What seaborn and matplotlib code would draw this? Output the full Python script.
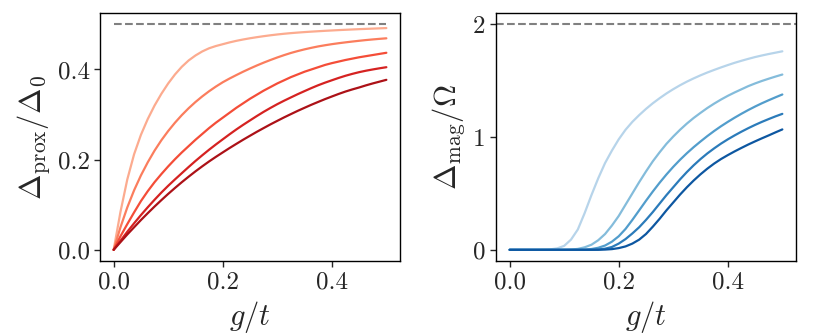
import numpy as np
import pandas as pd
import matplotlib
matplotlib.use("Agg")
import matplotlib.pyplot as plt
import seaborn as sns

# g/t grid shared by every curve
g_over_t = [0.0, 0.0125, 0.025, 0.0375, 0.05, 0.0625, 0.075, 0.0875, 0.1, 0.1125,
            0.125, 0.1375, 0.15, 0.1625, 0.175, 0.1875, 0.2, 0.2125, 0.225, 0.2375,
            0.25, 0.2625, 0.275, 0.2875, 0.3, 0.3125, 0.325, 0.3375, 0.35, 0.3625,
            0.375, 0.3875, 0.4, 0.4125, 0.425, 0.4375, 0.45, 0.4625, 0.475, 0.4875, 0.5]

# left panel: Delta_prox / Delta_0 (light -> dark)
prox_1 = [0, .084, .156, .212, .255, .290, .320, .346, .369, .389,
          .406, .420, .431, .440, .447, .452, .456, .460, .4635, .4665,
          .4692, .4716, .4738, .4758, .4776, .4792, .4806, .4818, .4829, .4839,
          .4848, .4857, .4865, .4873, .4880, .4887, .4894, .4900, .4906, .4912, .4918]
prox_2 = [0, .050, .094, .132, .165, .194, .220, .243, .2635, .282,
          .2988, .314, .3278, .3403, .3517, .3621, .3716, .3799, .3876, .3951,
          .4021, .4088, .4151, .4210, .4266, .4318, .4366, .4408, .4446, .4480,
          .4511, .4537, .4561, .4582, .4601, .4619, .4636, .4652, .4666, .4679, .4691]
prox_3 = [0, .030, .057, .083, .108, .130, .150, .168, .185, .201,
          .216, .230, .244, .257, .270, .282, .293, .304, .315, .325,
          .335, .344, .353, .361, .369, .376, .383, .389, .395, .400,
          .405, .410, .414, .4175, .421, .424, .427, .4295, .432, .4345, .437]
prox_4 = [0, .020, .040, .0588, .077, .0943, .111, .127, .142, .1562,
          .170, .1837, .197, .2097, .222, .2337, .245, .2562, .267, .2772,
          .287, .2967, .306, .3147, .323, .3307, .338, .3452, .352, .3587,
          .365, .3707, .376, .3812, .386, .3902, .394, .3972, .400, .4026, .405]
prox_5 = [0, .017, .034, .050, .066, .0812, .096, .1102, .124, .1372,
          .150, .1622, .174, .1852, .196, .2062, .216, .2257, .235, .2442,
          .253, .2617, .270, .2782, .286, .2937, .301, .3082, .315, .3217,
          .328, .3342, .340, .3457, .351, .3557, .360, .3647, .369, .373, .377]
prox_limit = 0.5

# right panel: Delta_mag / Omega (light -> dark)
mag_1 = [0, 0, 0, 0, 0, .001, .004, .013, .035, .09,
         .18, .325, .485, .635, .77, .88, .98, 1.065, 1.135, 1.195,
         1.25, 1.30, 1.345, 1.387, 1.425, 1.46, 1.492, 1.521, 1.548, 1.573,
         1.596, 1.618, 1.639, 1.659, 1.677, 1.694, 1.71, 1.724, 1.737, 1.749, 1.761]
mag_2 = [0, 0, 0, 0, 0, 0, 0, 0, 0, .002,
         .008, .022, .045, .085, .14, .215, .30, .40, .50, .60,
         .695, .785, .865, .94, 1.005, 1.065, 1.12, 1.17, 1.215, 1.258,
         1.297, 1.333, 1.366, 1.396, 1.424, 1.452, 1.476, 1.498, 1.518, 1.537, 1.555]
mag_3 = [0, 0, 0, 0, 0, 0, 0, 0, 0, 0,
         0, .002, .007, .018, .038, .072, .12, .185, .265, .35,
         .435, .517, .595, .668, .736, .799, .857, .911, .961, 1.009,
         1.054, 1.096, 1.135, 1.172, 1.207, 1.24, 1.271, 1.30, 1.327, 1.353, 1.378]
mag_4 = [0, 0, 0, 0, 0, 0, 0, 0, 0, 0,
         0, 0, 0, .003, .01, .025, .055, .095, .145, .20,
         .265, .335, .41, .485, .555, .625, .69, .75, .805, .855,
         .90, .942, .98, 1.015, 1.048, 1.079, 1.108, 1.135, 1.16, 1.184, 1.206]
mag_5 = [0, 0, 0, 0, 0, 0, 0, 0, 0, 0,
         0, 0, 0, 0, .002, .006, .015, .03, .055, .09,
         .14, .205, .275, .35, .42, .49, .555, .615, .67, .72,
         .765, .805, .84, .873, .904, .934, .962, .989, 1.015, 1.042, 1.068]
mag_limit = 2.0

curve_ids = ['c1', 'c2', 'c3', 'c4', 'c5']


def long_frame(series):
    rows = []
    for cid, vals in zip(curve_ids, series):
        for g, v in zip(g_over_t, vals):
            rows.append({'g': g, 'val': v, 'curve': cid})
    return pd.DataFrame(rows)


df_prox = long_frame([prox_1, prox_2, prox_3, prox_4, prox_5])
df_mag = long_frame([mag_1, mag_2, mag_3, mag_4, mag_5])

sns.set_style("ticks")
plt.rcParams['font.family'] = 'serif'
plt.rcParams['font.serif'] = ['cmr10', 'DejaVu Serif']
plt.rcParams['mathtext.fontset'] = 'cm'
plt.rcParams['axes.formatter.use_mathtext'] = True
plt.rcParams['axes.unicode_minus'] = False

reds = [matplotlib.colormaps['Reds'](x) for x in np.linspace(0.3, 0.85, 5)]
blues = [matplotlib.colormaps['Blues'](x) for x in np.linspace(0.3, 0.85, 5)]

fig, axes = plt.subplots(1, 2, figsize=(8.3, 3.36), dpi=100)
fig.subplots_adjust(left=0.1205, right=0.959, bottom=0.223, top=0.961, wspace=0.32)

ax = axes[0]
sns.lineplot(data=df_prox, x='g', y='val', hue='curve', palette=reds, ax=ax,
             linewidth=1.6, legend=False)
ax.hlines(prox_limit, 0, 0.5, colors='gray', linestyles='--', linewidth=1.5)
ax.set_ylabel(r'$\Delta_{\rm prox}/\Delta_0$', fontsize=22)
ax.set_yticks([0.0, 0.2, 0.4])
ax.set_yticklabels(['0.0', '0.2', '0.4'])

ax = axes[1]
sns.lineplot(data=df_mag, x='g', y='val', hue='curve', palette=blues, ax=ax,
             linewidth=1.6, legend=False)
ax.axhline(mag_limit, color='gray', linestyle='--', linewidth=1.5)
ax.set_ylim(-0.1, 2.1)
ax.set_ylabel(r'$\Delta_{\rm mag}/\Omega$', fontsize=22)
ax.set_yticks([0, 1, 2])
ax.set_yticklabels(['0', '1', '2'])

for ax in axes:
    ax.set_xticks([0.0, 0.2, 0.4])
    ax.set_xticklabels(['0.0', '0.2', '0.4'])
    ax.set_xlabel(r'$g/t$', fontsize=22)
    ax.tick_params(labelsize=18, width=1, length=4, direction='out')
    for s in ax.spines.values():
        s.set_visible(True)
        s.set_linewidth(1.0)
        s.set_color('black')

fig.savefig('out.png', dpi=100)
